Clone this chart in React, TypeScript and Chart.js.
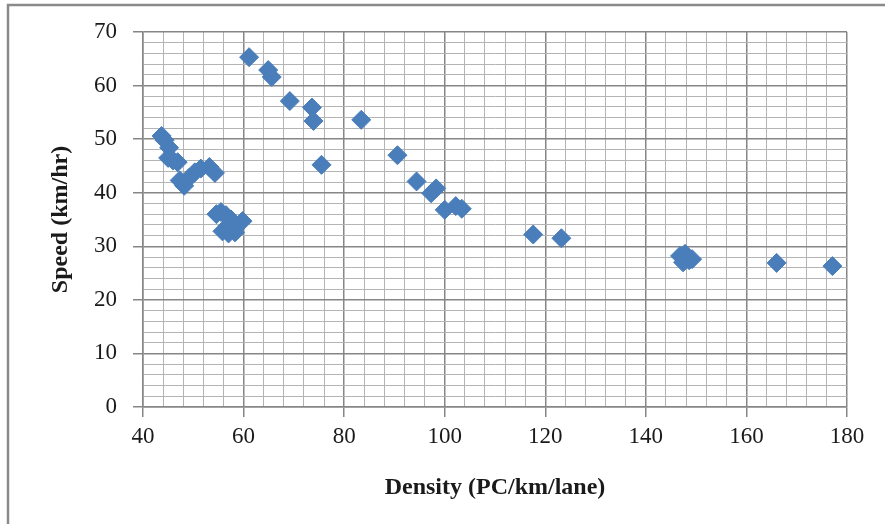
import React, { useEffect, useRef } from "react";
import { Chart, registerables } from "chart.js";

Chart.register(...registerables);

const densityValues: number[] = [
  43.7, 44.3, 45.2, 45.0, 46.0, 46.9,
  47.3, 48.2, 49.2, 50.3, 51.5, 53.2, 54.3,
  54.6, 55.5, 56.5, 57.5, 58.5, 59.8, 55.8, 57.0, 58.3, 56.8,
  61.1, 64.9, 65.6, 69.2, 73.6, 73.9, 75.5, 83.4,
  90.6, 94.4, 97.3, 98.3, 100.0, 102.2, 103.4,
  117.6, 123.2,
  146.8, 147.8, 148.6, 147.4, 149.2,
  166.0, 177.1,
];

const speedValues: number[] = [
  50.6, 49.8, 48.4, 46.5, 46.0, 45.7,
  42.3, 41.3, 42.8, 43.8, 44.5, 44.8, 43.7,
  36.0, 36.4, 35.8, 35.0, 34.0, 34.7, 32.8, 32.4, 32.6, 33.8,
  65.3, 62.9, 61.6, 57.1, 55.9, 53.4, 45.2, 53.6,
  47.0, 42.1, 39.9, 40.8, 36.8, 37.5, 37.0,
  32.2, 31.5,
  28.2, 28.6, 27.4, 27.0, 27.6,
  26.9, 26.3,
];

const xTickLabels: number[] = [40, 60, 80, 100, 120, 140, 160, 180];
const yTickLabels: number[] = [0, 10, 20, 30, 40, 50, 60, 70];

const xTitle = "Density (PC/km/lane)";
const yTitle = "Speed (km/hr)";

const MAJOR = "#868686";
const MINOR = "#b4b4b4";
const MARKER = "#4a7ebb";
const SERIF = "'Liberation Serif', 'DejaVu Serif', serif";

const framePlugin = {
  id: "frame",
  beforeDraw(chart: any) {
    const ctx = chart.ctx;
    ctx.save();
    ctx.fillStyle = "#ffffff";
    ctx.fillRect(0, 0, chart.width, chart.height);
    ctx.strokeStyle = "#8a8a8a";
    ctx.lineWidth = 2.5;
    ctx.beginPath();
    ctx.moveTo(8, chart.height);
    ctx.lineTo(8, 5);
    ctx.lineTo(chart.width, 5);
    ctx.stroke();
    ctx.restore();
  },
};

export default function App() {
  const ref = useRef<HTMLCanvasElement | null>(null);

  useEffect(() => {
    document.body.style.margin = "0";
    const canvas = ref.current;
    if (!canvas) return;
    const points = densityValues.map((x, i) => ({ x, y: speedValues[i] }));
    const chart = new Chart(canvas, {
      type: "scatter",
      data: {
        datasets: [
          {
            data: points,
            pointStyle: "rectRot",
            pointRadius: 9.5,
            pointHoverRadius: 9.5,
            backgroundColor: MARKER,
            borderColor: MARKER,
            borderWidth: 1,
          },
        ],
      },
      options: {
        responsive: false,
        animation: false,
        events: [],
        layout: { padding: { top: 32, right: 38, left: 0, bottom: 0 } },
        plugins: {
          legend: { display: false },
          tooltip: { enabled: false },
        },
        scales: {
          x: {
            type: "linear",
            min: 40,
            max: 180,
            afterFit: (s: any) => {
              s.height = 117;
            },
            afterBuildTicks: (s: any) => {
              const t = [];
              for (let v = 40; v <= 180; v += 4) t.push({ value: v });
              s.ticks = t;
            },
            border: { color: MAJOR, width: 1.5 },
            grid: {
              color: (c: any) => (c.tick && xTickLabels.includes(c.tick.value) ? MAJOR : MINOR),
              lineWidth: (c: any) => (c.tick && xTickLabels.includes(c.tick.value) ? 1.5 : 1),
              tickColor: (c: any) => (c.tick && xTickLabels.includes(c.tick.value) ? MAJOR : "rgba(0,0,0,0)"),
              tickLength: 10,
              drawTicks: true,
            },
            ticks: {
              autoSkip: false,
              maxRotation: 0,
              padding: 6,
              color: "#1a1a1a",
              font: { family: SERIF, size: 23 },
              callback: (v: any) => (xTickLabels.includes(Number(v)) ? String(v) : ""),
            },
            title: {
              display: true,
              text: xTitle,
              color: "#1a1a1a",
              font: { family: SERIF, size: 24, weight: "bold" },
              padding: { top: 0, bottom: 22 },
            },
          },
          y: {
            type: "linear",
            min: 0,
            max: 70,
            afterFit: (s: any) => {
              s.width = 143;
            },
            afterBuildTicks: (s: any) => {
              const t = [];
              for (let v = 0; v <= 70; v += 2) t.push({ value: v });
              s.ticks = t;
            },
            border: { color: MAJOR, width: 1.5 },
            grid: {
              color: (c: any) => (c.tick && yTickLabels.includes(c.tick.value) ? MAJOR : MINOR),
              lineWidth: (c: any) => (c.tick && yTickLabels.includes(c.tick.value) ? 1.5 : 1),
              tickColor: (c: any) => (c.tick && yTickLabels.includes(c.tick.value) ? MAJOR : "rgba(0,0,0,0)"),
              tickLength: 10,
            },
            ticks: {
              autoSkip: false,
              padding: 16,
              color: "#1a1a1a",
              font: { family: SERIF, size: 23 },
              callback: (v: any) => (yTickLabels.includes(Number(v)) ? String(v) : ""),
            },
            title: {
              display: true,
              text: yTitle,
              color: "#1a1a1a",
              font: { family: SERIF, size: 24, weight: "bold" },
              padding: { top: 46, bottom: 0 },
            },
          },
        },
      },
      plugins: [framePlugin],
    } as any);
    return () => chart.destroy();
  }, []);

  return (
    <div style={{ position: "absolute", left: 0, top: 0, width: 885, height: 524 }}>
      <canvas ref={ref} width={885} height={524} style={{ display: "block" }} />
    </div>
  );
}
